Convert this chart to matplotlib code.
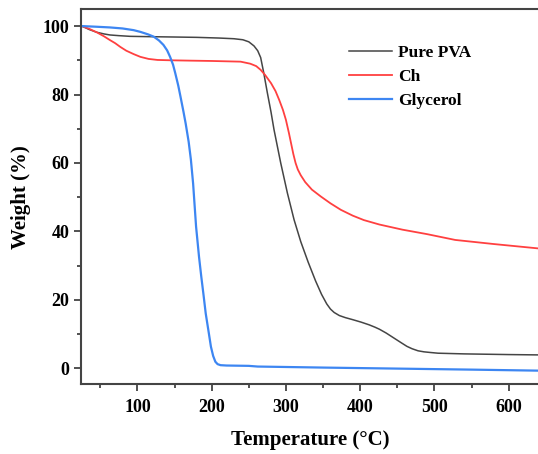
import matplotlib
matplotlib.use("Agg")
import matplotlib.pyplot as plt

# TGA curves (temperature in °C, weight in %)
pva_t = [25, 35, 45, 55, 63, 75, 90, 117, 150, 180, 210, 230, 242, 250, 257,
         262, 266, 270, 275, 280, 284, 293, 302, 311, 320, 330, 340, 348, 355,
         360, 365, 372, 380, 390, 401, 412, 420, 426, 435, 445, 455, 463, 470,
         478, 486, 495, 505, 540, 600, 641]
pva_w = [100, 99.0, 98.2, 97.7, 97.4, 97.2, 97.0, 96.9, 96.8, 96.7, 96.5, 96.3,
         96.0, 95.4, 94.2, 92.8, 90.8, 86.5, 80.5, 74.8, 69.7, 60.0, 51.2, 43.4,
         37.0, 31.0, 25.5, 21.6, 18.8, 17.3, 16.3, 15.4, 14.8, 14.2, 13.5, 12.7,
         12.0, 11.4, 10.3, 8.9, 7.5, 6.4, 5.7, 5.1, 4.8, 4.6, 4.4, 4.2, 4.0, 3.9]

ch_t = [25, 35, 45, 55, 63, 70, 77, 85, 95, 104, 115, 127, 144, 170, 200, 239,
        252, 260, 266, 272, 280, 286, 291, 296, 300, 304, 307, 310, 313, 316,
        320, 326, 335, 347, 360, 374, 390, 405, 426, 457, 490, 528, 580, 641]
ch_w = [100, 99.2, 98.2, 97.0, 95.9, 95.0, 93.9, 92.8, 91.8, 91.0, 90.4, 90.1,
        90.0, 89.9, 89.8, 89.6, 89.0, 88.3, 87.2, 85.7, 83.3, 81.0, 78.4, 75.5,
        72.6, 68.8, 65.7, 62.6, 60.0, 58.1, 56.4, 54.4, 52.2, 50.2, 48.2, 46.3,
        44.6, 43.3, 42.0, 40.5, 39.2, 37.5, 36.3, 35.0]

gly_t = [25, 45, 63, 80, 95, 104, 114, 122, 129, 135, 140, 144, 148, 151, 155,
         158, 162, 165, 169, 172, 175, 179, 183, 186, 189, 192, 196, 199, 202,
         205, 208, 212, 220, 250, 262, 350, 450, 550, 641]
gly_w = [100, 99.8, 99.6, 99.3, 98.8, 98.3, 97.6, 96.9, 95.8, 94.5, 92.9, 91.0,
         88.7, 86.2, 82.6, 79.4, 75.0, 71.5, 66.2, 61.0, 54.0, 41.4, 32.5, 26.8,
         21.5, 16.0, 10.5, 6.3, 3.6, 1.9, 1.2, 0.9, 0.8, 0.7, 0.5, 0.2, -0.1,
         -0.4, -0.7]

plt.rcParams['font.family'] = ['Liberation Serif', 'DejaVu Serif']
plt.rcParams['font.weight'] = 'bold'

fig = plt.figure(figsize=(5.38, 4.54), dpi=100)
ax = fig.add_axes([81 / 538, 1 - 384 / 454, 1 - 81 / 538 + 0.002, (384 - 9.3) / 454])

ax.plot(pva_t, pva_w, color="#454545", lw=1.1, label="Pure PVA", solid_joinstyle="round")
ax.plot(ch_t, ch_w, color="#ff4040", lw=1.3, label="Ch", solid_joinstyle="round")
ax.plot(gly_t, gly_w, color="#3d86f2", lw=1.6, label="Glycerol", solid_joinstyle="round")

ax.set_xlim(24, 641)
ax.set_ylim(-4.6, 104.9)
ax.set_xticks([100, 200, 300, 400, 500, 600])
ax.set_xticks([50, 150, 250, 350, 450, 550], minor=True)
ax.set_yticks([0, 20, 40, 60, 80, 100])
ax.set_yticks([10, 30, 50, 70, 90], minor=True)
ax.tick_params(which="both", direction="out", labelsize=13, width=1.2, color="#333333")
ax.tick_params(which="major", length=5)
ax.tick_params(which="minor", length=3)
ax.tick_params(axis="x", pad=6)
for s in ax.spines.values():
    s.set_linewidth(1.5)
    s.set_color("#444444")
ax.spines["right"].set_visible(False)

ax.set_xlabel("Temperature (°C)", fontsize=15, fontweight="bold", labelpad=10)
ax.set_ylabel("Weight (%)", fontsize=15, fontweight="bold", labelpad=8)

leg = ax.legend(loc="upper left", bbox_to_anchor=((348 - 81) / 457, 0.904), frameon=False,
                fontsize=12.5, handlelength=2.5, handletextpad=0.35, labelspacing=0.45,
                borderpad=0, borderaxespad=0)
for t in leg.get_texts():
    t.set_fontweight("bold")

fig.savefig("out.png", dpi=100)
